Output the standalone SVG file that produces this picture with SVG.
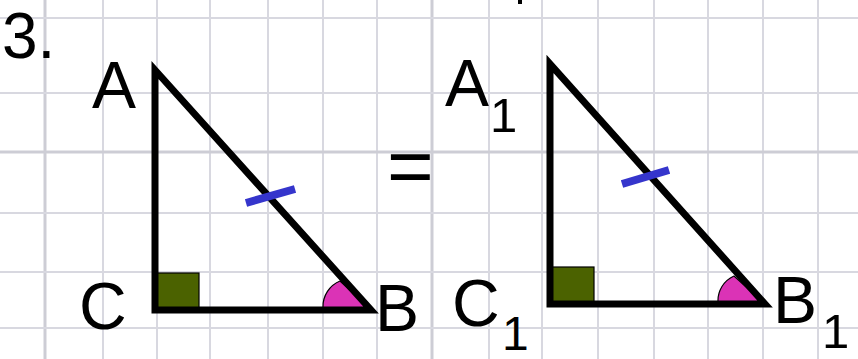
<svg xmlns="http://www.w3.org/2000/svg" width="858" height="359" viewBox="0 0 858 359">
<style>
.grid line{stroke:#d8d8e0;stroke-width:2}
.grid .thick{stroke:#cdcdd5;stroke-width:3}
.tri{fill:none;stroke:#000;stroke-width:7;stroke-linejoin:miter;stroke-miterlimit:10}
.right{fill:#4b6200;stroke:#000;stroke-width:1.2}
.angle{fill:#db33b6;stroke:#000;stroke-width:1.2}
.tick{stroke:#3535cc;stroke-width:8}
.lbl{font-family:"Liberation Sans",Arial,sans-serif;fill:#000}
</style>
<rect width="858" height="359" fill="#fff"/>
<g class="grid">
<line class="thick" x1="45" y1="0" x2="45" y2="359"/>
<line x1="103" y1="0" x2="103" y2="359"/>
<line x1="157" y1="0" x2="157" y2="359"/>
<line x1="210" y1="0" x2="210" y2="359"/>
<line x1="268" y1="0" x2="268" y2="359"/>
<line x1="323" y1="0" x2="323" y2="359"/>
<line x1="377" y1="0" x2="377" y2="359"/>
<line class="thick" x1="432" y1="0" x2="432" y2="359"/>
<line x1="489" y1="0" x2="489" y2="359"/>
<line x1="542" y1="0" x2="542" y2="359"/>
<line x1="598" y1="0" x2="598" y2="359"/>
<line x1="654" y1="0" x2="654" y2="359"/>
<line x1="708" y1="0" x2="708" y2="359"/>
<line x1="763" y1="0" x2="763" y2="359"/>
<line x1="818" y1="0" x2="818" y2="359"/>
<line x1="0" y1="18" x2="858" y2="18"/>
<line x1="0" y1="93" x2="858" y2="93"/>
<line class="thick" x1="0" y1="152" x2="858" y2="152"/>
<line x1="0" y1="213" x2="858" y2="213"/>
<line x1="0" y1="272" x2="858" y2="272"/>
<line x1="0" y1="328" x2="858" y2="328"/>
</g>
<rect x="518" y="0" width="4" height="4" fill="#000"/>
<text id="num" class="lbl" x="2" y="58" font-size="64">3.</text>
<g id="triangle1">
<path class="angle" d="M371,310 L323,310 L323,307 A27.5 27.5 0 0 1 340,281 Z"/>
<rect class="right" x="155" y="273" width="44" height="37"/>
<path class="tri" d="M155,70 L155,310 L371,310 Z"/>
<line class="tick" x1="246" y1="203" x2="295" y2="189"/>
</g>
<g id="labels1">
<text class="lbl" x="92" y="108" font-size="66">A</text>
<text class="lbl" x="79" y="329" font-size="66">C</text>
<text class="lbl" x="375" y="331" font-size="66">B</text>
</g>
<text id="eq" class="lbl" x="387" y="193" font-size="80">=</text>
<g id="triangle2">
<path class="angle" d="M765,304 L718,304 L718,302 A27 27 0 0 1 734,276 Z"/>
<rect class="right" x="550" y="267" width="44" height="37"/>
<path class="tri" d="M550,64 L550,304 L765,304 Z"/>
<line class="tick" x1="622" y1="184" x2="669" y2="170"/>
</g>
<g id="labels2">
<text class="lbl" font-size="66"><tspan x="445" y="106">A</tspan><tspan x="490" y="132" font-size="49">1</tspan></text>
<text class="lbl" font-size="66"><tspan x="452" y="326">C</tspan><tspan x="502" y="350" font-size="48">1</tspan></text>
<text class="lbl" font-size="66"><tspan x="773" y="323">B</tspan><tspan x="822" y="348" font-size="49">1</tspan></text>
</g>
</svg>
